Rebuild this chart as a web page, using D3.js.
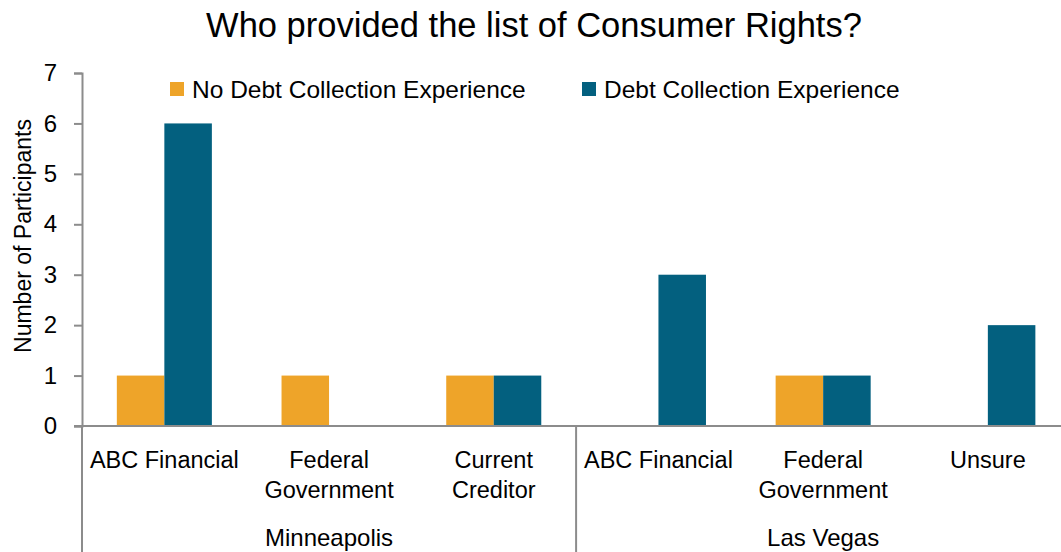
<!DOCTYPE html>
<html>
<head>
<meta charset="utf-8">
<script src="https://cdn.jsdelivr.net/npm/d3@7"></script>
<style>
  body { margin: 0; background: #fff; }
  svg { display: block; font-family: "Liberation Sans", Arial, sans-serif; }
</style>
</head>
<body>
<svg width="1061" height="552"></svg>
<script>
// DATA
var categories = ["ABC Financial", "Federal|Government", "Current|Creditor", "ABC Financial", "Federal|Government", "Unsure"];
var groups = ["Minneapolis", "Las Vegas"];
var seriesNames = ["No Debt Collection Experience", "Debt Collection Experience"];
var noDebt = [1, 1, 1, 0, 1, 0];
var withDebt = [6, 0, 1, 3, 1, 2];
var yTicks = [0, 1, 2, 3, 4, 5, 6, 7];

var colours = ["#eea429", "#03607f"];
var axisColour = "#8c8c8c";

var svg = d3.select("svg"),
  plotLeft = 82,
  step = 164.7,
  plotTop = 73,
  plotBottom = 426;

var rows = categories.map(function(c, i) {
  return { i: i, label: c, values: [noDebt[i], withDebt[i]] };
});

var x = d3.scaleBand().domain(d3.range(categories.length))
  .range([plotLeft, plotLeft + step * categories.length]);
var xInner = d3.scaleBand().domain([0, 1]).range([0, x.bandwidth()])
  .paddingInner(0).paddingOuter(0.733);
var y = d3.scaleLinear().domain([0, 7]).range([plotBottom, plotTop]);

// TITLE
svg.append("text")
  .attr("x", 534).attr("y", 37)
  .attr("text-anchor", "middle")
  .attr("font-size", 34.5)
  .attr("fill", "#000")
  .text("Who provided the list of Consumer Rights?");

// BARS
var cat = svg.selectAll(".cat").data(rows).enter().append("g")
  .attr("class", "cat")
  .attr("transform", function(d) { return "translate(" + x(d.i) + ",0)"; });

cat.selectAll("rect")
  .data(function(d) { return d.values.map(function(v, k) { return { k: k, v: v }; }); })
  .enter().append("rect")
  .attr("x", function(d) { return xInner(d.k); })
  .attr("y", function(d) { return y(d.v); })
  .attr("width", xInner.bandwidth())
  .attr("height", function(d) { return plotBottom - y(d.v); })
  .attr("fill", function(d) { return colours[d.k]; });

// Y AXIS
var yAxis = svg.append("g")
  .attr("transform", "translate(" + plotLeft + ",0)")
  .call(d3.axisLeft(y).tickValues(yTicks).tickFormat(d3.format("d")).tickSize(8).tickPadding(17));
yAxis.select(".domain").attr("stroke", axisColour).attr("stroke-width", 2);
yAxis.selectAll(".tick line").attr("stroke", axisColour).attr("stroke-width", 2);
yAxis.selectAll(".tick text")
  .attr("font-size", 24)
  .attr("fill", "#000")
  .attr("font-family", "Liberation Sans, Arial, sans-serif");

svg.append("text")
  .attr("transform", "translate(31,236) rotate(-90)")
  .attr("text-anchor", "middle")
  .attr("font-size", 23)
  .text("Number of Participants");

// X AXIS
svg.append("line")
  .attr("x1", plotLeft - 8).attr("x2", 1061)
  .attr("y1", plotBottom).attr("y2", plotBottom)
  .attr("stroke", axisColour).attr("stroke-width", 2);

[0, 3, 6].forEach(function(i) {
  var xx = plotLeft + step * i;
  svg.append("line")
    .attr("x1", xx).attr("x2", xx)
    .attr("y1", plotBottom).attr("y2", 552)
    .attr("stroke", axisColour).attr("stroke-width", 2);
});

var labels = svg.selectAll(".xlab").data(rows).enter().append("text")
  .attr("class", "xlab")
  .attr("text-anchor", "middle")
  .attr("font-size", 23.5)
  .attr("fill", "#000");
labels.each(function(d) {
  var t = d3.select(this);
  d.label.split("|").forEach(function(line, j) {
    t.append("tspan")
      .attr("x", x(d.i) + x.bandwidth() / 2)
      .attr("y", 468 + j * 30)
      .text(line);
  });
});

groups.forEach(function(g, gi) {
  svg.append("text")
    .attr("x", plotLeft + step * (gi * 3 + 1.5))
    .attr("y", 546)
    .attr("text-anchor", "middle")
    .attr("font-size", 24)
    .text(g);
});

// LEGEND
var legendX = [170, 582];
var legend = svg.selectAll(".legend").data(seriesNames).enter().append("g")
  .attr("class", "legend")
  .attr("transform", function(d, i) { return "translate(" + legendX[i] + ",82)"; });
legend.append("rect")
  .attr("width", 14).attr("height", 14)
  .attr("fill", function(d, i) { return colours[i]; });
legend.append("text")
  .attr("x", 22).attr("y", 16)
  .attr("font-size", 24.5)
  .text(function(d) { return d; });
</script>
</body>
</html>
